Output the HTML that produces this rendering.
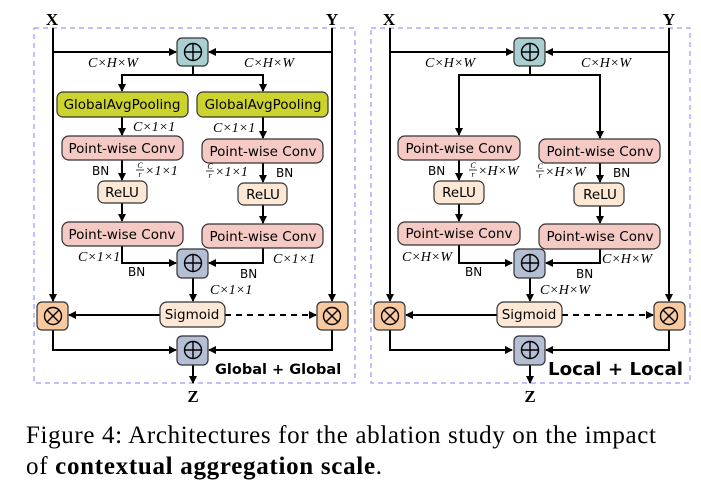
<!DOCTYPE html>
<html><head><meta charset="utf-8"><style>
body{margin:0;background:#fff;width:701px;height:491px;overflow:hidden}
svg text{font-family:"DejaVu Sans","Liberation Sans",sans-serif}
svg .m text{font-family:"Liberation Serif",serif;font-style:italic;font-size:14px}
svg .s text{font-size:12px}
svg text.b{font-size:14.5px}
svg text.sr{font-family:"Liberation Serif",serif}
</style></head><body>
<svg width="701" height="491" viewBox="0 0 701 491" xmlns="http://www.w3.org/2000/svg">
<defs>
<marker id="a" markerWidth="8" markerHeight="8" refX="7" refY="4" orient="auto" markerUnits="userSpaceOnUse"><path d="M0,0 L8,4 L0,8 z" fill="#000"/></marker>
<g id="plus"><circle r="8.5" fill="none" stroke="#000" stroke-width="1.4"/><path d="M-8.5,0H8.5M0,-8.5V8.5" stroke="#000" stroke-width="1.4"/></g>
<g id="times"><circle r="8.5" fill="none" stroke="#000" stroke-width="1.4"/><path d="M-6,-6L6,6M6,-6L-6,6" stroke="#000" stroke-width="1.4"/></g>
</defs>
<g stroke="#000" stroke-width="2" fill="none">
<rect x="34" y="28" width="321" height="355" stroke="#8080ff" stroke-width="1" stroke-dasharray="5,4"/>
<path d="M53,28V301" marker-end="url(#a)"/>
<path d="M332,28V301" marker-end="url(#a)"/>
<path d="M53,52H176" marker-end="url(#a)"/>
<path d="M332,52H209" marker-end="url(#a)"/>
<path d="M193,66V75H122V91" marker-end="url(#a)"/>
<path d="M193,75H263V91" marker-end="url(#a)"/>
<path d="M122,117V135" marker-end="url(#a)"/>
<path d="M263,117V138" marker-end="url(#a)"/>
<path d="M122,160V180" marker-end="url(#a)"/>
<path d="M263,163V182" marker-end="url(#a)"/>
<path d="M122,203V221" marker-end="url(#a)"/>
<path d="M263,205V223" marker-end="url(#a)"/>
<path d="M122,246V263H176" marker-end="url(#a)"/>
<path d="M263,248V263H209" marker-end="url(#a)"/>
<path d="M193,278V301" marker-end="url(#a)"/>
<path d="M160,315H69" marker-end="url(#a)"/>
<path d="M225,315H316" stroke-dasharray="6,5" marker-end="url(#a)"/>
<path d="M53,330V350H176" marker-end="url(#a)"/>
<path d="M332,330V350H209" marker-end="url(#a)"/>
<path d="M193,365V383" marker-end="url(#a)"/>
<rect x="371" y="28" width="319" height="355" stroke="#8080ff" stroke-width="1" stroke-dasharray="5,4"/>
<path d="M390,28V301" marker-end="url(#a)"/>
<path d="M669,28V301" marker-end="url(#a)"/>
<path d="M390,52H513" marker-end="url(#a)"/>
<path d="M669,52H546" marker-end="url(#a)"/>
<path d="M530,66V75H459V135" marker-end="url(#a)"/>
<path d="M530,75H600V138" marker-end="url(#a)"/>
<path d="M459,160V180" marker-end="url(#a)"/>
<path d="M600,163V182" marker-end="url(#a)"/>
<path d="M459,204V221" marker-end="url(#a)"/>
<path d="M600,206V223" marker-end="url(#a)"/>
<path d="M459,245V263H512" marker-end="url(#a)"/>
<path d="M600,249V263H546" marker-end="url(#a)"/>
<path d="M530,278V301" marker-end="url(#a)"/>
<path d="M497,315H406" marker-end="url(#a)"/>
<path d="M562,315H653" stroke-dasharray="6,5" marker-end="url(#a)"/>
<path d="M390,330V350H512" marker-end="url(#a)"/>
<path d="M669,330V350H546" marker-end="url(#a)"/>
<path d="M530,365V383" marker-end="url(#a)"/>
</g>
<g stroke="#333" stroke-width="1.2">
<rect x="177" y="38" width="31" height="28" rx="5" fill="#a9cfd3"/>
<rect x="57" y="92" width="131" height="25" rx="6" fill="#cdd32d"/>
<rect x="197" y="92" width="131" height="25" rx="6" fill="#cdd32d"/>
<rect x="62" y="136" width="121" height="24" rx="7" fill="#f5cac4"/>
<rect x="202" y="139" width="121" height="24" rx="7" fill="#f5cac4"/>
<rect x="98" y="181" width="49" height="22" rx="6" fill="#fde8d6"/>
<rect x="238" y="183" width="49" height="22" rx="6" fill="#fde8d6"/>
<rect x="62" y="222" width="121" height="24" rx="7" fill="#f5cac4"/>
<rect x="202" y="224" width="121" height="24" rx="7" fill="#f5cac4"/>
<rect x="177" y="249" width="31" height="29" rx="5" fill="#b5bfd4"/>
<rect x="160" y="302" width="65" height="25" rx="7" fill="#fde8d6"/>
<rect x="37" y="302" width="31" height="28" rx="5" fill="#f9c9a0"/>
<rect x="317" y="302" width="31" height="28" rx="5" fill="#f9c9a0"/>
<rect x="177" y="336" width="31" height="29" rx="5" fill="#b5bfd4"/>
<rect x="514" y="38" width="31" height="28" rx="5" fill="#a9cfd3"/>
<rect x="398" y="136" width="122" height="24" rx="7" fill="#f5cac4"/>
<rect x="539" y="139" width="121" height="24" rx="7" fill="#f5cac4"/>
<rect x="434" y="181" width="50" height="23" rx="6" fill="#fde8d6"/>
<rect x="574" y="183" width="50" height="23" rx="6" fill="#fde8d6"/>
<rect x="398" y="222" width="122" height="23" rx="7" fill="#f5cac4"/>
<rect x="539" y="224" width="121" height="25" rx="7" fill="#f5cac4"/>
<rect x="514" y="249" width="31" height="29" rx="5" fill="#b5bfd4"/>
<rect x="497" y="302" width="65" height="25" rx="7" fill="#fde8d6"/>
<rect x="374" y="302" width="31" height="28" rx="5" fill="#f9c9a0"/>
<rect x="654" y="302" width="31" height="28" rx="5" fill="#f9c9a0"/>
<rect x="514" y="336" width="31" height="29" rx="5" fill="#b5bfd4"/>
</g>
<use href="#plus" x="193" y="52"/><use href="#plus" x="193" y="263"/><use href="#plus" x="193" y="350"/>
<use href="#times" x="53" y="316"/><use href="#times" x="332" y="316"/>
<use href="#plus" x="530" y="52"/><use href="#plus" x="530" y="263"/><use href="#plus" x="530" y="350"/>
<use href="#times" x="390" y="316"/><use href="#times" x="669" y="316"/>
<g fill="#000">
<text x="52" y="25" font-weight="bold" font-size="17" text-anchor="middle" style="font-family:'Liberation Serif',serif">X</text>
<text x="332" y="25" font-weight="bold" font-size="17" text-anchor="middle" style="font-family:'Liberation Serif',serif">Y</text>
<text x="389" y="25" font-weight="bold" font-size="17" text-anchor="middle" style="font-family:'Liberation Serif',serif">X</text>
<text x="669" y="25" font-weight="bold" font-size="17" text-anchor="middle" style="font-family:'Liberation Serif',serif">Y</text>
<text x="193" y="402" font-weight="bold" font-size="17" text-anchor="middle" style="font-family:'Liberation Serif',serif">Z</text>
<text x="530" y="402" font-weight="bold" font-size="17" text-anchor="middle" style="font-family:'Liberation Serif',serif">Z</text>
<g font-size="13.5" text-anchor="middle">
<text x="122" y="109">GlobalAvgPooling</text><text x="263" y="109">GlobalAvgPooling</text>
<text x="122" y="153">Point-wise Conv</text><text x="263" y="156">Point-wise Conv</text>
<text x="122" y="197">ReLU</text><text x="263" y="199">ReLU</text>
<text x="122" y="239">Point-wise Conv</text><text x="263" y="241">Point-wise Conv</text>
<text x="192" y="319">Sigmoid</text>
<text x="459" y="153">Point-wise Conv</text><text x="600" y="156">Point-wise Conv</text>
<text x="459" y="197">ReLU</text><text x="600" y="199">ReLU</text>
<text x="459" y="238">Point-wise Conv</text><text x="600" y="241">Point-wise Conv</text>
<text x="529" y="319">Sigmoid</text>
</g>
<g class="s">
<text x="92" y="175">BN</text><text x="276" y="177">BN</text>
<text x="128" y="276">BN</text><text x="240" y="278">BN</text>
<text x="428" y="175">BN</text><text x="613" y="177">BN</text>
<text x="465" y="276">BN</text><text x="576" y="278">BN</text>
</g>
<g class="m">
<text x="88" y="67">C×H×W</text><text x="244" y="67">C×H×W</text>
<text x="133" y="131">C×1×1</text><text x="213" y="132">C×1×1</text>
<text x="145" y="175">×1×1</text><text x="215" y="176">×1×1</text>
<text x="78" y="261">C×1×1</text><text x="273" y="263">C×1×1</text>
<text x="210" y="294">C×1×1</text>
<text x="425" y="67">C×H×W</text><text x="581" y="67">C×H×W</text>
<text x="478" y="175">×H×W</text><text x="545" y="176">×H×W</text>
<text x="402" y="261">C×H×W</text><text x="602" y="263">C×H×W</text>
<text x="540" y="294">C×H×W</text>
</g>
<g class="m" text-anchor="middle">
<text x="140" y="168" style="font-size:8px">C</text><text x="140" y="177" style="font-size:8px">r</text>
<text x="210" y="169" style="font-size:8px">C</text><text x="210" y="178" style="font-size:8px">r</text>
<text x="473" y="168" style="font-size:8px">C</text><text x="473" y="177" style="font-size:8px">r</text>
<text x="540" y="169" style="font-size:8px">C</text><text x="540" y="178" style="font-size:8px">r</text>
</g>
<g stroke="#000" stroke-width="0.7"><path d="M136,170H144M206,171H214M469,170H477M536,171H544"/></g>
<text x="215" y="374" class="b" font-weight="bold">Global + Global</text>
<text x="548" y="375" font-size="18" font-weight="bold" textLength="135" lengthAdjust="spacingAndGlyphs">Local + Local</text>
<text x="26" y="443" font-size="25" class="sr" textLength="630" lengthAdjust="spacing">Figure 4: Architectures for the ablation study on the impact</text>
<text x="26" y="474" font-size="25" class="sr" textLength="356" lengthAdjust="spacing">of <tspan font-weight="bold">contextual aggregation scale</tspan>.</text>
</g>
</svg>
</body></html>
